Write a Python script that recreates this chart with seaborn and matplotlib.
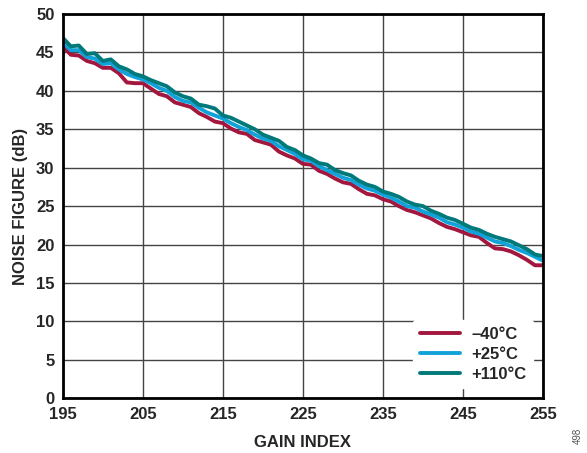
import numpy as np
import pandas as pd
import matplotlib
matplotlib.use('Agg')
import matplotlib.pyplot as plt
import seaborn as sns

# data (gain index 195..255)
gain_index = list(range(195, 256))
nf_m40 = [45.8, 44.7, 44.6, 43.9, 43.6, 43.0, 43.0, 42.3, 41.1, 41.0,
          41.0, 40.3, 39.6, 39.3, 38.5, 38.2, 37.9, 37.1, 36.6, 36.0,
          35.8, 35.1, 34.6, 34.4, 33.6, 33.3, 33.0, 32.1, 31.6, 31.2,
          30.5, 30.4, 29.6, 29.2, 28.6, 28.1, 27.9, 27.2, 26.6, 26.4,
          25.9, 25.6, 25.0, 24.5, 24.2, 23.8, 23.4, 22.8, 22.3, 22.0,
          21.6, 21.2, 21.0, 20.2, 19.5, 19.4, 19.1, 18.6, 18.0, 17.3,
          17.3]
nf_p25 = [46.3, 45.3, 45.3, 44.4, 44.2, 43.5, 43.6, 42.8, 42.2, 41.8,
          41.5, 41.0, 40.4, 40.0, 39.2, 38.7, 38.5, 37.8, 37.2, 36.8,
          36.4, 35.8, 35.3, 34.9, 34.3, 33.8, 33.5, 32.8, 32.3, 31.8,
          31.1, 30.9, 30.2, 29.7, 29.2, 28.7, 28.4, 27.8, 27.3, 27.0,
          26.5, 26.1, 25.6, 25.0, 24.8, 24.3, 23.9, 23.5, 22.9, 22.6,
          22.2, 21.7, 21.4, 20.9, 20.4, 20.2, 19.8, 19.3, 18.9, 18.4,
          17.9]
nf_p110 = [46.9, 45.8, 45.9, 44.8, 44.9, 43.9, 44.1, 43.2, 42.8, 42.2,
           41.9, 41.4, 41.0, 40.6, 39.8, 39.3, 39.0, 38.2, 38.0, 37.7,
           36.8, 36.5, 36.0, 35.5, 35.0, 34.3, 33.9, 33.5, 32.7, 32.3,
           31.6, 31.2, 30.6, 30.4, 29.7, 29.3, 29.0, 28.3, 27.8, 27.5,
           26.9, 26.6, 26.2, 25.6, 25.2, 25.0, 24.4, 24.0, 23.5, 23.2,
           22.7, 22.2, 21.9, 21.4, 21.0, 20.7, 20.4, 19.9, 19.4, 18.7,
           18.5]
temps = ['\u201340°C', '+25°C', '+110°C']
colors = ['#A3173F', '#10A2D8', '#00797A']

df = pd.concat([
    pd.DataFrame({'gain': gain_index, 'nf': vals, 'temp': t})
    for vals, t in zip([nf_m40, nf_p25, nf_p110], temps)
])

sns.set_style('white')
plt.rcParams['font.family'] = ['Liberation Sans', 'DejaVu Sans']

fig = plt.figure(figsize=(5.87, 4.53), dpi=100)
ax = fig.add_axes([0.107, 0.121, 0.818, 0.848])

sns.lineplot(data=df, x='gain', y='nf', hue='temp', palette=colors,
             hue_order=temps, linewidth=2.8, ax=ax)

ax.set_xlim(195, 255)
ax.set_ylim(0, 50)
ax.set_xticks(range(195, 256, 10))
ax.set_yticks(range(0, 51, 5))
ax.grid(True, color='#444444', linewidth=1.0)
ax.set_axisbelow(True)
for s in ax.spines.values():
    s.set_color('black')
    s.set_linewidth(2)
ax.tick_params(labelsize=12, length=0, pad=6)
for lab in ax.get_xticklabels() + ax.get_yticklabels():
    lab.set_fontweight('bold')
ax.set_xlabel('GAIN INDEX', fontsize=12, fontweight='bold', labelpad=10)
ax.set_ylabel('NOISE FIGURE (dB)', fontsize=12, fontweight='bold', labelpad=6)

leg = ax.legend(loc='lower right', frameon=True, fontsize=12,
                handlelength=2.4, borderaxespad=0.6, labelspacing=0.3,
                handletextpad=0.7)
leg.get_frame().set_facecolor('white')
leg.get_frame().set_edgecolor('white')
leg.get_frame().set_alpha(1)
for t in leg.get_texts():
    t.set_fontweight('bold')

fig.text(0.985, 0.02, '498', rotation=90, fontsize=7, color='#555555',
         ha='center', va='bottom')

fig.savefig('out.png', dpi=100)
